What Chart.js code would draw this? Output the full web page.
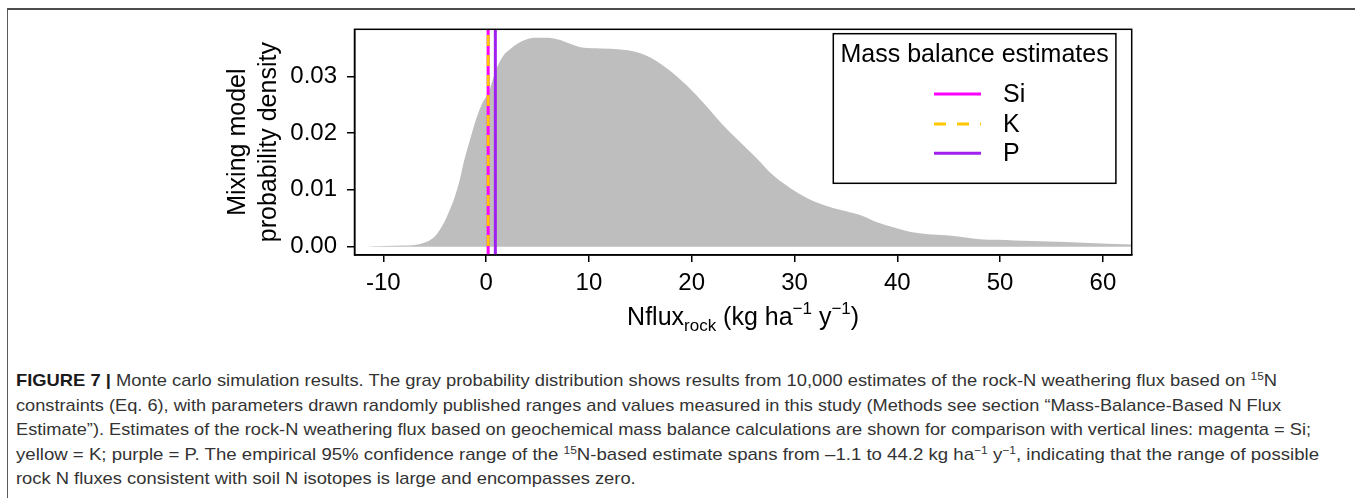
<!DOCTYPE html>
<html><head><meta charset="utf-8">
<script src="https://cdn.jsdelivr.net/npm/chart.js@4.4.1/dist/chart.umd.min.js"></script>
<style>
html,body{margin:0;padding:0;background:#fff;width:1355px;height:498px;overflow:hidden;}
#frame{position:absolute;left:7px;top:8px;width:1348px;height:490px;border-top:2px solid #4d4d4d;border-left:1px solid #5a5a5a;box-sizing:border-box;}
#c{position:absolute;left:0;top:0;}
.cap{position:absolute;left:16px;white-space:nowrap;font-family:"Liberation Sans Narrow","Arial Narrow","Liberation Sans",Arial,sans-serif;font-size:17px;color:#333;transform-origin:0 50%;line-height:20px;}
.cap b{color:#1a1a1a;}
.cap sup{font-size:11px;vertical-align:0;position:relative;top:-6px;}
</style></head><body>
<div id="frame"></div>
<canvas id="c" width="1355" height="345"></canvas>
<div class="cap" id="l1" style="top:371px"><b>FIGURE 7 |</b> Monte carlo simulation results. The gray probability distribution shows results from 10,000 estimates of the rock-N weathering flux based on <sup>15</sup>N</div>
<div class="cap" id="l2" style="top:395.5px">constraints (Eq. 6), with parameters drawn randomly published ranges and values measured in this study (Methods see section “Mass-Balance-Based N Flux</div>
<div class="cap" id="l3" style="top:420px">Estimate”). Estimates of the rock-N weathering flux based on geochemical mass balance calculations are shown for comparison with vertical lines: magenta = Si;</div>
<div class="cap" id="l4" style="top:444.5px">yellow = K; purple = P. The empirical 95% confidence range of the <sup>15</sup>N-based estimate spans from –1.1 to 44.2 kg ha<sup>−1</sup> y<sup>−1</sup>, indicating that the range of possible</div>
<div class="cap" id="l5" style="top:469px">rock N fluxes consistent with soil N isotopes is large and encompasses zero.</div>
<script>
// ---- data ----
const xTicks = [-10, 0, 10, 20, 30, 40, 50, 60];
const yTicks = [0, 0.01, 0.02, 0.03];
const densityX = [-11.7,-10,-8,-7,-6,-5.4,-4.8,-4.1,-3.6,-3.15,-2.6,-2.2,-1.7,-1.2,-0.88,-0.39,0.2,0.9,1.07,1.71,2.3,3.0,4.3,5.0,6.0,7.2,7.9,9.5,11.1,13.1,14.5,16.2,17.8,19.5,21.2,22.9,24.5,26.2,27.9,29.6,31.3,32.9,34.6,36.3,37.9,39.6,41.3,43.0,44.7,46.3,48.0,49.7,51.4,54.7,58.1,62.8,65];
const densityY = [0,0.0001,0.0002,0.0003,0.0007,0.0012,0.0022,0.0042,0.0062,0.0082,0.0115,0.0147,0.0180,0.0211,0.0229,0.0252,0.0270,0.0308,0.0316,0.0337,0.0347,0.0357,0.0367,0.0368,0.0368,0.0364,0.0359,0.0350,0.0349,0.0347,0.0343,0.0331,0.0311,0.0284,0.0252,0.0217,0.0188,0.0158,0.0126,0.0103,0.0085,0.0073,0.0064,0.0056,0.0044,0.0034,0.0026,0.0022,0.0020,0.0017,0.0013,0.0012,0.0011,0.0009,0.0007,0.0004,0.0003];
const estimateLabels = ['Si', 'K', 'P'];
const estimateValues = [0.2, 0.2, 0.9];
const legendTitle = 'Mass balance estimates';
const yTitle = ['Mixing model', 'probability density'];

// ---- styles ----
const estStyle = {
  Si: {color: '#FF00FF', dash: [], order: 3},
  K:  {color: '#FFC800', dash: [11, 9], order: 2},
  P:  {color: '#A020F0', dash: [], order: 1}
};
const FONT = '"Liberation Sans", Arial, sans-serif';

const datasets = [{
  label: 'density',
  data: densityX.map((x, i) => ({x: x, y: densityY[i]})),
  backgroundColor: '#BEBEBE',
  borderWidth: 0,
  borderColor: 'rgba(0,0,0,0)',
  pointRadius: 0,
  fill: 'origin',
  cubicInterpolationMode: 'monotone',
  order: 10
}];
estimateLabels.forEach((lab, i) => {
  const st = estStyle[lab];
  datasets.push({
    label: lab,
    data: [{x: estimateValues[i], y: -1}, {x: estimateValues[i], y: 1}],
    borderColor: st.color,
    backgroundColor: st.color,
    borderWidth: 3,
    borderDash: st.dash,
    borderCapStyle: 'butt',
    pointRadius: 0,
    fill: false,
    order: st.order
  });
});

const rPlugin = {
  id: 'rstyle',
  afterDraw(chart) {
    const ctx = chart.ctx, a = chart.chartArea;
    ctx.save();
    // plot box
    ctx.strokeStyle = '#000'; ctx.lineWidth = 1.5;
    ctx.strokeRect(a.left, a.top, a.right - a.left, a.bottom - a.top);
    // legend box
    const lx0 = 833.3, lx1 = 1115.9, ly0 = 33.7, ly1 = 183.3;
    ctx.strokeRect(lx0, ly0, lx1 - lx0, ly1 - ly0);
    ctx.fillStyle = '#000';
    ctx.font = '25px ' + FONT;
    ctx.textAlign = 'center'; ctx.textBaseline = 'middle';
    ctx.fillText(legendTitle, (lx0 + lx1) / 2, 55);
    const rows = [94, 124, 153.3];
    estimateLabels.forEach((lab, i) => {
      const st = estStyle[lab];
      ctx.strokeStyle = st.color; ctx.lineWidth = 3; ctx.setLineDash(st.dash.length ? [12, 11] : []);
      ctx.beginPath(); ctx.moveTo(934, rows[i]); ctx.lineTo(981, rows[i]); ctx.stroke();
      ctx.setLineDash([]);
      ctx.textAlign = 'left';
      ctx.fillText(lab, 1003, rows[i] + 1);
    });
    // y title
    ctx.textAlign = 'center'; ctx.textBaseline = 'middle';
    const cy = (a.top + a.bottom) / 2;
    [238, 269].forEach((xx, i) => {
      ctx.save(); ctx.translate(xx, cy); ctx.rotate(-Math.PI / 2);
      ctx.fillText(yTitle[i], 0, 0); ctx.restore();
    });
    // x title with sub/superscripts
    const parts = [
      {t: 'Nflux', s: 25, dy: 0},
      {t: 'rock', s: 17, dy: 6},
      {t: ' (kg ha', s: 25, dy: 0},
      {t: '\u22121', s: 17, dy: -11},
      {t: ' y', s: 25, dy: 0},
      {t: '\u22121', s: 17, dy: -11},
      {t: ')', s: 25, dy: 0}
    ];
    let tot = 0;
    parts.forEach(p => { ctx.font = p.s + 'px ' + FONT; p.w = ctx.measureText(p.t).width; tot += p.w; });
    let x = (a.left + a.right) / 2 - tot / 2;
    ctx.textAlign = 'left'; ctx.textBaseline = 'alphabetic';
    parts.forEach(p => { ctx.font = p.s + 'px ' + FONT; ctx.fillText(p.t, x, 325 + p.dy); x += p.w; });
    ctx.restore();
  }
};

new Chart(document.getElementById('c'), {
  type: 'line',
  data: {datasets: datasets},
  options: {
    responsive: false, animation: false, devicePixelRatio: 1,
    layout: {padding: {top: 29.3, right: 223.3, left: 0, bottom: 0}},
    plugins: {legend: {display: false}, tooltip: {enabled: false}},
    scales: {
      x: {
        type: 'linear', min: -12.8, max: 62.8,
        afterBuildTicks: s => { s.ticks = xTicks.map(v => ({value: v})); },
        afterFit: s => { s.height = 90; },
        ticks: {font: {family: FONT, size: 24}, color: '#000', padding: 7, maxRotation: 0, autoSkip: false, callback: v => String(v)},
        grid: {display: true, drawOnChartArea: false, drawTicks: true, tickLength: 7, color: '#000', lineWidth: 1.5},
        border: {display: true, color: '#000', width: 1.5}
      },
      y: {
        type: 'linear', min: -0.00147, max: 0.03827,
        afterBuildTicks: s => { s.ticks = yTicks.map(v => ({value: v})); },
        afterFit: s => { s.width = 354.5; },
        ticks: {font: {family: FONT, size: 24}, color: '#000', padding: 10, autoSkip: false, callback: v => v.toFixed(2)},
        grid: {display: true, drawOnChartArea: false, drawTicks: true, tickLength: 7.5, color: '#000', lineWidth: 1.5},
        border: {display: true, color: '#000', width: 1.5}
      }
    }
  },
  plugins: [rPlugin]
});

// fit caption lines to their measured extents
const targets = {l1: 1277, l2: 1281, l3: 1311, l4: 1319};
let sum = 0, n = 0;
Object.keys(targets).forEach(id => {
  const el = document.getElementById(id);
  const w = el.getBoundingClientRect().width;
  const s = (targets[id] - 16) / w;
  el.style.transform = 'scaleX(' + s + ')';
  sum += s; n++;
});
document.getElementById('l5').style.transform = 'scaleX(' + (sum / n) + ')';
</script>
</body></html>
